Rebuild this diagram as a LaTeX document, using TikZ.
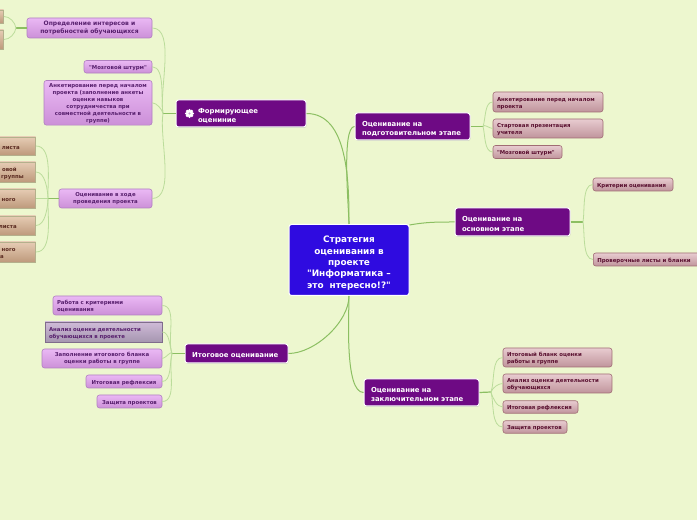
\documentclass[tikz,border=0pt]{standalone}
\usepackage{fontspec}
\setmainfont{DejaVu Sans}[Ligatures=TeXOff]
\usetikzlibrary{shadows}

\definecolor{paper}{HTML}{EDF7CF}
\definecolor{rootblue}{HTML}{2F0BE0}
\definecolor{topicpurple}{HTML}{6E0A84}
\definecolor{linegreen}{HTML}{8CBF62}
\definecolor{twiggreen}{HTML}{BBDC9B}
\definecolor{subtop}{HTML}{EAB8F4}
\definecolor{subbottom}{HTML}{CC90D8}
\definecolor{subline}{HTML}{B080C0}
\definecolor{subtext}{HTML}{58206E}
\definecolor{leaftop}{HTML}{E8CCD0}
\definecolor{leafbottom}{HTML}{C0949C}
\definecolor{leafline}{HTML}{A06C74}
\definecolor{leaftext}{HTML}{5A1030}
\definecolor{tantop}{HTML}{E6CCB4}
\definecolor{tanbottom}{HTML}{BE9A7C}
\definecolor{tanline}{HTML}{B4B08C}
\definecolor{tantext}{HTML}{5A2A20}
\definecolor{greytop}{HTML}{CFBBD8}
\definecolor{greybottom}{HTML}{A696B0}
\definecolor{greyline}{HTML}{806C8C}

\tikzset{
  softshadow/.style={general shadow={fill=black!40,opacity=.45,shadow xshift=.5pt,shadow yshift=-.9pt}},
  rootbox/.style={draw=white,line width=1pt,fill=rootblue,rounded corners=2.5pt,text=white,font=\bfseries\fontsize{8.9}{11.3}\selectfont,align=center,inner sep=2pt,text width=116pt,minimum height=71pt,execute at begin node=\rule{0pt}{13pt}},
  topicbox/.style={draw=white,line width=1pt,fill=topicpurple,rounded corners=2.5pt,text=white,font=\bfseries\fontsize{6.9}{9.4}\selectfont,align=left,inner xsep=7pt,inner ysep=1pt,softshadow,execute at begin node=\rule{0pt}{9.5pt}},
  subbox/.style={draw=subline,line width=.6pt,top color=subtop,bottom color=subbottom,rounded corners=2.5pt,text=subtext,font=\bfseries\fontsize{5.4}{7}\selectfont,align=center,inner xsep=2pt,inner ysep=1pt,execute at begin node=\rule{0pt}{6.5pt}},
  leafbox/.style={draw=leafline,line width=.6pt,top color=leaftop,bottom color=leafbottom,rounded corners=2.5pt,text=leaftext,font=\bfseries\fontsize{5.4}{7}\selectfont,align=left,inner xsep=4pt,inner ysep=1pt,execute at begin node=\rule{0pt}{6.5pt}},
  tanbox/.style={draw=tanline,line width=.6pt,top color=tantop,bottom color=tanbottom,text=tantext,font=\bfseries\fontsize{5.4}{7}\selectfont,align=right,anchor=east,inner xsep=16pt,inner ysep=1pt,text width=70pt,execute at begin node=\rule{0pt}{6.5pt}},
  limb/.style={linegreen,line width=1pt},
  stem/.style={linegreen,line width=1.2pt},
  twig/.style={twiggreen,line width=.8pt}
}

\begin{document}
\begin{tikzpicture}[x=1pt,y=1pt]
\useasboundingbox (0,0) rectangle (697,520);
\fill[paper] (0,0) rectangle (697,520);

\node[rootbox] (root) at (349,260) {Стратегия\\оценивания в\\проекте\\"Информатика –\\это~~нтересно!?"};

\node[topicbox,text width=116pt,minimum height=27pt] (form) at (241,406.5) {\hspace*{15pt}Формирующее\\\hspace*{15pt}оцениние};
\node[topicbox,text width=101pt,minimum height=27pt] (prep) at (412.5,393.5) {Оценивание на\\подготовительном этапе};
\node[topicbox,text width=101pt,minimum height=28pt] (basic) at (512.5,298) {Оценивание на\\основном этапе};
\node[topicbox,text width=101pt,minimum height=27pt] (final) at (421.5,127.5) {Оценивание на\\заключительном этапе};
\node[topicbox,text width=89pt,minimum height=19pt] (total) at (236.5,166.5) {Итоговое оценивание};

% flower on the first topic
\coordinate (flower) at (189.5,406.5);
\foreach \a in {0,45,...,315} \fill[white] (flower) ++(\a:3.2) circle (1.5);
\fill[white] (flower) circle (3);
\fill[topicpurple!40] (flower) circle (1.2);

% left side, upper
\node[subbox,font=\bfseries\fontsize{6}{7.4}\selectfont,minimum width=125pt,minimum height=20pt] (needs) at (89.5,492) {Определение интересов и\\потребностей обучающихся};
\node[subbox,minimum width=68pt,minimum height=12.5pt] (storm) at (118,453.2) {"Мозговой штурм"};
\node[subbox,text width=104pt,minimum height=44.5pt] (survey) at (98,417.2) {Анкетирование перед началом\\проекта (заполнение анкеты\\оценки навыков\\сотрудничества при\\совместной деятельности в\\группе)};
\node[subbox,minimum width=93pt,minimum height=19pt] (during) at (105.5,321.5) {Оценивание в ходе\\проведения проекта};

\node[tanbox,minimum height=13pt] (needa) at (4,503.5) {};
\node[tanbox,minimum height=19pt] (needb) at (4,480.5) {};

\node[tanbox,minimum height=18pt] (sheeta) at (36,374) {листа};
\node[tanbox,minimum height=20pt,inner xsep=12pt] (sheetb) at (36,348) {овой\rule{7pt}{0pt}\\группы};
\node[tanbox,minimum height=19pt,inner xsep=20pt] (sheetc) at (36,321.5) {ного};
\node[tanbox,minimum height=19pt,inner xsep=19pt] (sheetd) at (36,294.5) {листа};
\node[tanbox,minimum height=20pt,inner xsep=20pt] (sheete) at (36,268) {ного\\а\rule{12pt}{0pt}};

% left side, lower
\node[subbox,text width=101pt,align=left,minimum height=19pt,inner xsep=4pt] (work) at (107.5,214.5) {Работа с критериями\\оценивания};
\node[subbox,rounded corners=0pt,draw=greyline,top color=greytop,bottom color=greybottom,text width=109pt,align=left,minimum height=20pt,inner xsep=4pt] (review) at (103.5,188) {Анализ оценки деятельности\\обучающихся в проекте};
\node[subbox,minimum width=120pt,minimum height=19pt] (blank) at (102,161.5) {Заполнение итогового бланка\\оценки работы в группе};
\node[subbox,minimum width=76pt,minimum height=13pt] (reflect) at (124,138.5) {Итоговая рефлексия};
\node[subbox,minimum width=65pt,minimum height=13pt] (defend) at (129.5,118.5) {Защита проектов};

% right side
\node[leafbox,text width=102pt,minimum height=20pt] (rsurvey) at (548,418) {Анкетирование перед началом\\проекта};
\node[leafbox,text width=102pt,minimum height=19pt] (rstart) at (548,391.5) {Стартовая презентация\\учителя};
\node[leafbox,text width=61pt,minimum height=13pt] (rstorm) at (527.5,368) {"Мозговой штурм"};
\node[leafbox,text width=72pt,minimum height=13pt] (rcrit) at (633,335.5) {Критерии оценивания};
\node[leafbox,anchor=west,text width=110pt,minimum height=13pt] (rsheets) at (593,260.5) {Проверочные листы и бланки};
\node[leafbox,text width=101pt,minimum height=19pt] (rblank) at (557.5,162.5) {Итоговый бланк оценки\\работы в группе};
\node[leafbox,text width=101pt,minimum height=19pt] (rreview) at (557.5,136.5) {Анализ оценки деятельности\\обучающихся};
\node[leafbox,text width=67pt,minimum height=12.5pt] (rreflect) at (540.5,113) {Итоговая рефлексия};
\node[leafbox,text width=56pt,minimum height=12.5pt] (rdefend) at (535,93) {Защита проектов};

% forks
\coordinate (formfork) at (163,406.5);
\coordinate (duringfork) at (48,321.5);
\coordinate (needsfork) at (16,492);
\coordinate (prepfork) at (483,393.5);
\coordinate (basicfork) at (583,298);
\coordinate (finalfork) at (491,128);
\coordinate (totalfork) at (172,166.5);

% root to topics
\draw[limb] (root.north) to[out=90,in=0,looseness=.9] (form.east);
\draw[limb] (root.north) to[out=90,in=180,looseness=.35] (prep.west);
\draw[limb] (root.east) ++(0,35) to[out=10,in=180] (basic.west);
\draw[limb] (root.south) to[out=-90,in=180,looseness=.5] (final.west);
\draw[limb] (root.south) to[out=-90,in=0,looseness=.8] (total.east);

% topics to forks
\foreach \a/\b in {form/formfork,during/duringfork,needs/needsfork,total/totalfork}
  \draw[stem] (\a.west) -- (\b);
\foreach \a/\b in {prep/prepfork,basic/basicfork,final/finalfork}
  \draw[stem] (\a.east) -- (\b);

% twigs
\foreach \n in {needs,storm,survey}
  \draw[twig] (formfork) to[out=100,in=0,looseness=.7] (\n.east);
\draw[twig] (formfork) to[out=-100,in=0,looseness=.7] (during.east);
\foreach \n in {sheeta,sheetb}
  \draw[twig] (duringfork) to[out=92,in=0,looseness=.8] (\n.east);
\draw[twig] (duringfork) -- (sheetc.east);
\foreach \n in {sheetd,sheete}
  \draw[twig] (duringfork) to[out=-92,in=0,looseness=.8] (\n.east);
\draw[twig] (needsfork) to[out=100,in=0,looseness=.9] (needa.east);
\draw[twig] (needsfork) to[out=-100,in=0,looseness=.9] (needb.east);
\foreach \n in {rsurvey,rstart}
  \draw[twig] (prepfork) to[out=70,in=180,looseness=.8] (\n.west);
\draw[twig] (prepfork) to[out=-75,in=180,looseness=.8] (rstorm.west);
\draw[twig] (basicfork) to[out=80,in=180,looseness=.7] (rcrit.west);
\draw[twig] (basicfork) to[out=-80,in=180,looseness=.7] (rsheets.west);
\foreach \n in {rblank,rreview}
  \draw[twig] (finalfork) to[out=70,in=180,looseness=.8] (\n.west);
\foreach \n in {rreflect,rdefend}
  \draw[twig] (finalfork) to[out=-75,in=180,looseness=.8] (\n.west);
\foreach \n in {work,review,blank}
  \draw[twig] (totalfork) to[out=110,in=0,looseness=.8] (\n.east);
\foreach \n in {reflect,defend}
  \draw[twig] (totalfork) to[out=-105,in=0,looseness=.8] (\n.east);
\end{tikzpicture}
\end{document}
